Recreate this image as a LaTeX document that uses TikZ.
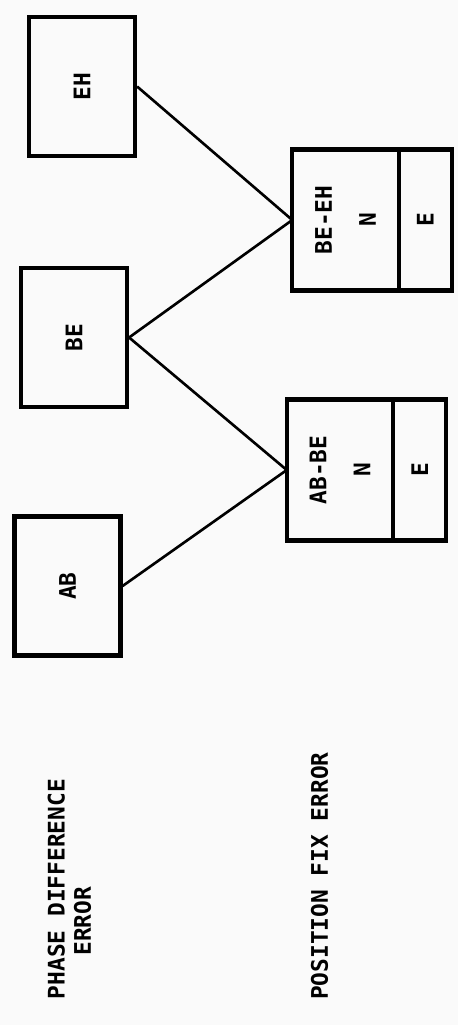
\documentclass[tikz,border=0pt]{standalone}
\usepackage{fontspec}
\setmonofont{DejaVu Sans Mono}
\usepackage{tikz}
\usetikzlibrary{positioning}

\begin{document}
\begin{tikzpicture}[x=0.02cm,y=-0.02cm,
		txt/.style={font=\ttfamily\bfseries\fontsize{13}{15}\selectfont,rotate=90},
		sbox/.style={txt,draw,line width=2.4pt,inner sep=1pt,minimum width=2.78cm,minimum height=2.12cm},
		npart/.style={txt,draw,line width=2.4pt,inner sep=1pt,outer sep=0pt,align=center,minimum width=2.82cm,minimum height=2.13cm},
		epart/.style={txt,draw,line width=2.4pt,inner sep=1pt,outer sep=0pt,minimum width=2.82cm,minimum height=1.06cm},
		conn/.style={line width=1.5pt}]
			\fill[black!2] (0,0) rectangle (458,1025);
			\foreach \nm/\x/\y/\lb in {eh/82/86.5/EH,be/74/337.5/BE,ab/67.5/586/AB}
				\node[sbox] (\nm) at (\x,\y) {\lb};
			\node[npart] (behn) at (345.5,220) {BE-EH\\[10pt]N};
			\node[epart,anchor=north] (behe) at (behn.south) {E};
			\node[npart] (abn) at (340,470) {AB-BE\\[10pt]N};
			\node[epart,anchor=north] (abe) at (abn.south) {E};
			\draw[conn] (eh.south) -- (behn.north);
			\draw[conn] (be.south) -- (behn.north);
			\draw[conn] (be.south) -- (abn.north);
			\draw[conn] (ab.south) -- (abn.north);
			\node[txt,align=left,inner sep=0pt] (phase) at (69.5,889) {PHASE DIFFERENCE\\\hspace*{1.9em}ERROR};
			\node[txt,inner sep=0pt] (fix) at (319.5,876) {POSITION FIX ERROR};
		\end{tikzpicture}
\end{document}
